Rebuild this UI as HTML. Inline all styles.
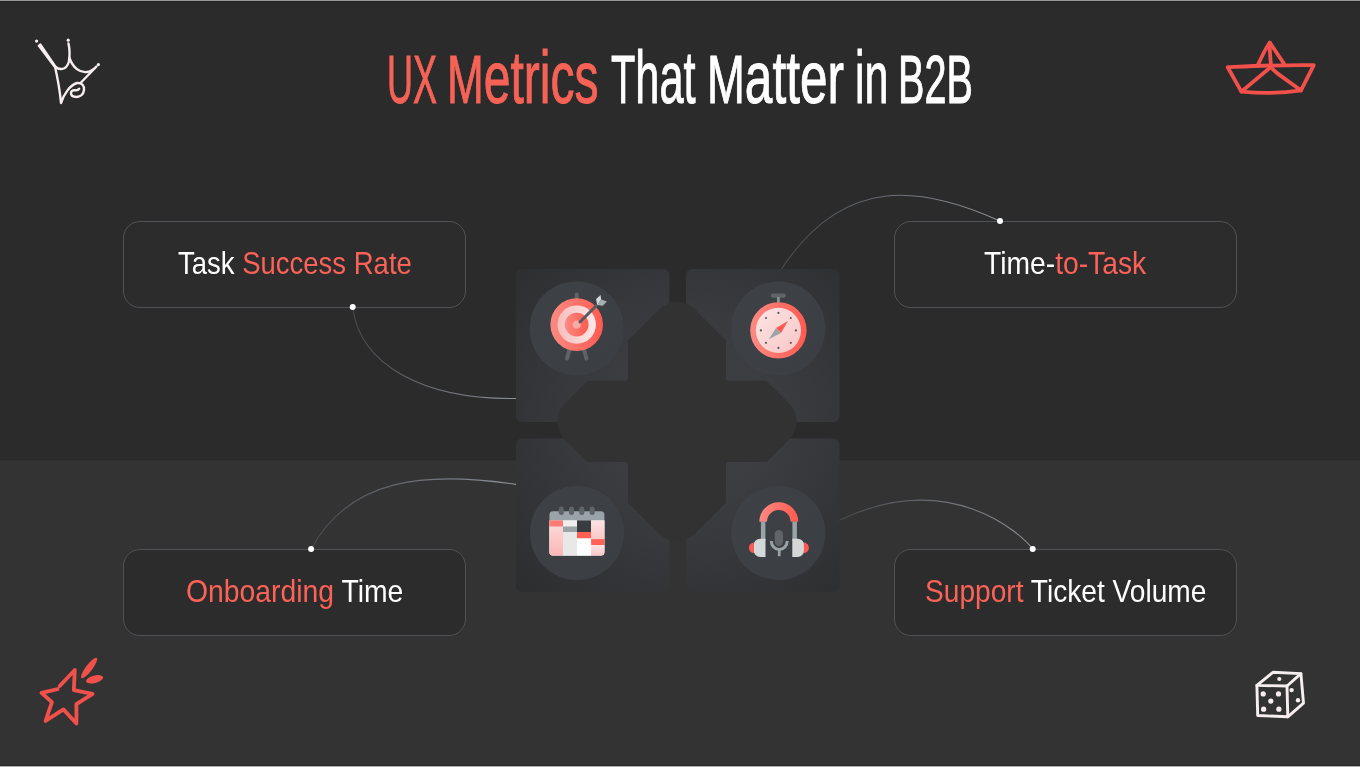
<!DOCTYPE html>
<html><head><meta charset="utf-8">
<style>
html,body{margin:0;padding:0;}
body{width:1360px;height:767px;overflow:hidden;position:relative;background:#2b2b2b;font-family:"Liberation Sans",sans-serif;}
.bgtop{position:absolute;left:0;top:0;width:1360px;height:460px;background:#2b2b2b;}
.bgbot{position:absolute;left:0;top:460px;width:1360px;height:307px;background:#333333;}
.ln{position:absolute;left:0;width:1360px;height:1px;}
.tw{position:absolute;white-space:nowrap;font-size:68.8px;line-height:80px;transform-origin:0 0;color:#fff;}
.lc{font-size:75px;}
.tw{-webkit-text-stroke:1px #fff;}
.tw.red{-webkit-text-stroke:1px #f66356;}
.bt{position:absolute;white-space:pre;font-size:30.5px;line-height:40px;transform-origin:0 0;color:#fff;}
.red{color:#fc6258;}
.tw.red{color:#f66356;}
.box{position:absolute;width:343px;height:87px;border:1px solid #4f5257;border-radius:17px;background:#2c2c2c;box-sizing:border-box;}
svg{position:absolute;left:0;top:0;}
</style></head><body>
<div class="bgtop"></div><div class="bgbot"></div>
<div class="ln" style="top:0;background:#999"></div><div class="ln" style="top:1px;background:#232323"></div>
<div class="ln" style="top:459px;background:#2a2a2a"></div><div class="ln" style="top:460px;background:#303030"></div>
<div class="ln" style="top:765px;background:#2a2a2a"></div><div class="ln" style="top:766px;background:#b0b0b0"></div>

<div class="box" style="left:123px;top:221px;"></div>
<div class="box" style="left:894px;top:221px;"></div>
<div class="box" style="left:123px;top:549px;"></div>
<div class="box" style="left:894px;top:549px;"></div>

<div class="tw red" style="left:386.69px;top:40.00px;transform:scaleX(0.5222)">UX</div>
<div class="tw red" style="left:447.40px;top:37.00px;transform:scaleX(0.6406)">M<span class="lc">e</span><span class="lc">t</span><span class="lc">r</span><span class="lc">i</span><span class="lc">c</span><span class="lc">s</span></div>
<div class="tw" style="left:611.02px;top:37.00px;transform:scaleX(0.5779)">T<span class="lc">h</span><span class="lc">a</span><span class="lc">t</span></div>
<div class="tw" style="left:706.50px;top:37.00px;transform:scaleX(0.6604)">M<span class="lc">a</span><span class="lc">t</span><span class="lc">t</span><span class="lc">e</span><span class="lc">r</span></div>
<div class="tw" style="left:855.30px;top:37.00px;transform:scaleX(0.5740)"><span class="lc">i</span><span class="lc">n</span></div>
<div class="tw" style="left:897.72px;top:40.00px;transform:scaleX(0.5754)">B2B</div>
<div class="bt" style="left:177.71px;top:243.23px;transform:scaleX(0.9015)">Task <span class="red">Success Rate</span></div>
<div class="bt" style="left:984.19px;top:243.23px;transform:scaleX(0.9263)">Time-<span class="red">to-Task</span></div>
<div class="bt" style="left:185.68px;top:571.23px;transform:scaleX(0.9287)"><span class="red">Onboarding</span> Time</div>
<div class="bt" style="left:924.83px;top:571.23px;transform:scaleX(0.9220)"><span class="red">Support</span> Ticket Volume</div>

<svg width="1360" height="767" viewBox="0 0 1360 767">
<defs>
<radialGradient id="gTile" gradientUnits="userSpaceOnUse" cx="690" cy="420" r="235"><stop offset="0.3" stop-color="#3c3e42"/><stop offset="1" stop-color="#2d2e30"/></radialGradient>
<linearGradient id="gTL" x1="0" y1="0" x2="1" y2="1"><stop offset="0" stop-color="#2c2d2f"/><stop offset="1" stop-color="#3d4044"/></linearGradient>
<linearGradient id="gTR" x1="1" y1="0" x2="0" y2="1"><stop offset="0" stop-color="#2f3032"/><stop offset="1" stop-color="#3d4044"/></linearGradient>
<linearGradient id="gBL" x1="0" y1="1" x2="1" y2="0"><stop offset="0" stop-color="#2c2d2f"/><stop offset="1" stop-color="#3d4044"/></linearGradient>
<linearGradient id="gBR" x1="1" y1="1" x2="0" y2="0"><stop offset="0" stop-color="#2c2d2f"/><stop offset="1" stop-color="#3d4044"/></linearGradient>
<linearGradient id="gCirc" x1="0" y1="0" x2="1" y2="1"><stop offset="0" stop-color="#3e4146"/><stop offset="1" stop-color="#3b3e43"/></linearGradient>
<mask id="dmask" maskUnits="userSpaceOnUse" x="0" y="0" width="1360" height="767">
<rect x="0" y="0" width="1360" height="767" fill="#fff"/>
<rect x="500" y="250" width="128" height="130.7" rx="3" fill="#000"/>
<rect x="726" y="250" width="130" height="130.7" rx="3" fill="#000"/>
<rect x="500" y="462" width="128" height="140" rx="3" fill="#000"/>
<rect x="726" y="462" width="130" height="140" rx="3" fill="#000"/>
</mask>
</defs>
<rect x="516" y="269" width="153.5" height="153" rx="6" fill="url(#gTile)"/>
<rect x="686" y="269" width="153.5" height="153" rx="6" fill="url(#gTile)"/>
<rect x="516" y="438.5" width="153.5" height="153.5" rx="6" fill="url(#gTile)"/>
<rect x="686" y="438.5" width="153.5" height="153.5" rx="6" fill="url(#gTile)"/>
<path d="M659.3,309.2 A25,25 0 0 1 694.7,309.2 L789.3,403.8 A25,25 0 0 1 789.3,439.2 L694.7,533.8 A25,25 0 0 1 659.3,533.8 L564.7,439.2 A25,25 0 0 1 564.7,403.8 Z" fill="#323232" mask="url(#dmask)"/>
<line x1="677.5" y1="302" x2="677.5" y2="459" stroke="#313131" stroke-width="1"/>
<circle cx="576.8" cy="328.4" r="47" fill="url(#gCirc)"/>
<circle cx="778.3" cy="328.4" r="47" fill="url(#gCirc)"/>
<circle cx="577" cy="533" r="47" fill="url(#gCirc)"/>
<circle cx="778.3" cy="533" r="47" fill="url(#gCirc)"/>

<defs>
<linearGradient id="rg1" x1="0" y1="0" x2="1" y2="0"><stop offset="0" stop-color="#fb8a82"/><stop offset="1" stop-color="#ff5a50"/></linearGradient>
<linearGradient id="pg1" x1="0" y1="0" x2="1" y2="0"><stop offset="0" stop-color="#f9bdbd"/><stop offset="1" stop-color="#fde7e7"/></linearGradient>
<linearGradient id="face" x1="0" y1="0" x2="1" y2="1"><stop offset="0" stop-color="#fde4e4"/><stop offset="1" stop-color="#f9c6c6"/></linearGradient>
<linearGradient id="pinkv" x1="0" y1="0" x2="0" y2="1"><stop offset="0" stop-color="#fdd6d6"/><stop offset="1" stop-color="#fbb6b6"/></linearGradient>
<linearGradient id="pinkv2" x1="0" y1="0" x2="0" y2="1"><stop offset="0" stop-color="#fde4e4"/><stop offset="1" stop-color="#fcc6c6"/></linearGradient>
</defs>
<!-- target icon -->
<rect x="574.7" y="292.5" width="4" height="7" rx="2" fill="#5d6366"/>
<line x1="569.6" y1="349" x2="567" y2="358.5" stroke="#5d6366" stroke-width="4" stroke-linecap="round"/>
<line x1="583.8" y1="349" x2="586.4" y2="358.5" stroke="#5d6366" stroke-width="4" stroke-linecap="round"/>
<circle cx="576.7" cy="324.6" r="26.3" fill="url(#rg1)"/>
<circle cx="576.7" cy="324.6" r="19.2" fill="url(#pg1)"/>
<circle cx="576.7" cy="324.6" r="11.8" fill="url(#rg1)"/>
<circle cx="576.7" cy="324.6" r="4.2" fill="#f9a9a6"/>
<line x1="580" y1="322" x2="597.5" y2="304.5" stroke="#555b5e" stroke-width="3" stroke-linecap="round"/>
<polygon points="596.1,299.0 600.6,295.0 601.1,299.6 597.2,304.9" fill="#d6d9da"/>
<polygon points="601.1,299.6 606.9,301.5 602.8,305.8 597.2,304.9" fill="#a7b0b3"/>
<!-- stopwatch -->
<rect x="770.9" y="293.5" width="15" height="4.2" rx="2.1" fill="#5f6568"/>
<rect x="777.1" y="297" width="2.6" height="6" fill="#8d979a"/>
<circle cx="778.4" cy="330.4" r="28.2" fill="url(#rg1)"/>
<circle cx="778.4" cy="330.4" r="22.6" fill="url(#face)"/>
<g fill="#555a5d">
<circle cx="778.4" cy="312.9" r="1.1"/><circle cx="778.4" cy="347.9" r="1.1"/>
<circle cx="760.9" cy="330.4" r="1.1"/><circle cx="795.9" cy="330.4" r="1.1"/>
<circle cx="766" cy="318" r="1.1"/><circle cx="790.8" cy="318" r="1.1"/>
<circle cx="766" cy="342.8" r="1.1"/><circle cx="790.8" cy="342.8" r="1.1"/>
</g>
<polygon points="776,328 781,333 788,320.9" fill="#ff5a52"/>
<polygon points="776,328 781,333 768.8,339.3" fill="#9aa5a8"/>
<!-- calendar -->
<rect x="549.4" y="511.2" width="55" height="44.4" rx="3.5" fill="#9aa3a7"/>
<path d="M549.4,520.4 H604.4 V552.1 A3.5,3.5 0 0 1 600.9,555.6 H552.9 A3.5,3.5 0 0 1 549.4,552.1 Z" fill="#eee"/>
<path d="M549.4,526.5 H563 V555.6 H552.9 A3.5,3.5 0 0 1 549.4,552.1 Z" fill="url(#pinkv)"/>
<rect x="549.4" y="520.4" width="13.6" height="6.1" fill="#ff7b72"/>
<rect x="563" y="520.4" width="14" height="6.1" fill="#efefef"/>
<rect x="563" y="526.5" width="14" height="5.5" fill="#9aa3a7"/>
<rect x="563" y="532" width="14" height="23.6" fill="#e8e8e8"/>
<rect x="577" y="520.4" width="14.1" height="11.6" fill="#393c40"/>
<rect x="577" y="532" width="14.1" height="6.5" fill="#ff6055"/>
<rect x="577" y="538.5" width="14.1" height="17.1" fill="#ffffff"/>
<path d="M591.1,520.4 H604.4 V539.1 H591.1 Z" fill="url(#pinkv2)"/>
<rect x="591.1" y="539.1" width="13.3" height="5.9" fill="#ff6358"/>
<path d="M591.1,545 H604.4 V552.1 A3.5,3.5 0 0 1 600.9,555.6 H591.1 Z" fill="url(#pinkv2)"/>
<g stroke="#5f6568" stroke-width="5" stroke-linecap="round">
<line x1="561.3" y1="509" x2="561.3" y2="512.4"/><line x1="571.5" y1="509" x2="571.5" y2="512.4"/>
<line x1="581.8" y1="509" x2="581.8" y2="512.4"/><line x1="592.2" y1="509" x2="592.2" y2="512.4"/>
</g>
<!-- headset -->
<path d="M759.3,521.8 A19.5,19.5 0 0 1 798.3,521.8 H790.6 A11.8,11.8 0 0 0 767,521.8 Z" fill="url(#rg1)"/>
<rect x="760.9" y="521.5" width="4.5" height="19" fill="#9aa3a7"/>
<rect x="792.4" y="521.5" width="4.5" height="19" fill="#9aa3a7"/>
<path d="M765.5,538.7 V557 H760.2 A6.5,6.5 0 0 1 753.7,550.5 V545.2 A6.5,6.5 0 0 1 760.2,538.7 Z" fill="#d5d8d9"/>
<path d="M792.3,538.7 V557 H797.6 A6.5,6.5 0 0 0 804.1,550.5 V545.2 A6.5,6.5 0 0 0 797.6,538.7 Z" fill="#d5d8d9"/>
<path d="M753.9,542.6 A5,5.25 0 0 0 753.9,553.1 Z" fill="#ff5a52"/>
<path d="M803.9,542.6 A5,5.25 0 0 1 803.9,553.1 Z" fill="#ff5a52"/>
<rect x="774.7" y="530" width="8.3" height="16" rx="4.15" fill="#5f6568"/>
<path d="M771.3,541 A7.95,8.6 0 0 0 787.2,541" fill="none" stroke="#9aa3a7" stroke-width="3"/>
<line x1="779.25" y1="549" x2="779.25" y2="556.2" stroke="#9aa3a7" stroke-width="2.7"/>

<defs><linearGradient id="cg" x1="0" y1="0" x2="1" y2="0"><stop offset="0" stop-color="#46494e"/><stop offset="1" stop-color="#8e9298"/></linearGradient></defs>
<g fill="none" stroke="url(#cg)" stroke-width="1.1">
<path d="M352.7,307 C359.5,364.5 422.6,399.5 516,398.5"/>
<path d="M1000,221 C922,185.8 843.8,174.1 781.7,268.7"/>
<path d="M311.1,548.9 C349.5,478.8 424,470.5 516,484.4"/>
<path d="M1032.7,549 C1021.3,534 949.6,467.5 839.4,520.3"/>
</g>
<g fill="#ffffff">
<circle cx="352.7" cy="307" r="3"/>
<circle cx="1000" cy="221" r="3"/>
<circle cx="311.1" cy="548.9" r="3"/>
<circle cx="1032.7" cy="549" r="3"/>
</g>
<!-- crown -->
<g fill="none" stroke="#f7efef" stroke-width="2.4" stroke-linecap="round" stroke-linejoin="round">
<path d="M55,66.5 C59,70 66,71 68.8,62 C70,55 69.5,48 68.5,43.5"/>
<path d="M38.6,45.7 L40.4,44.3 L55.4,66.2 L54.6,66.8 Z" fill="#f7efef" stroke-width="2"/>
<path d="M69.5,58 C73,68 80,73 87,72 C91,71.5 94,69 96.5,66.5 L80.5,83"/>
<path d="M55,66.5 C58,80 60,92 61,103 C64,94 70,85 77,83 C82,82.5 84.5,86 84,90 C83.5,94.5 80,97 76.5,97 C73,97 71,95.5 71,93 C71,90.8 73,90 75,90.3 C76.8,90.6 78.3,90.2 79.2,88.7"/>
</g>
<g fill="#f7efef"><circle cx="36.6" cy="41.1" r="1.6"/><circle cx="68.2" cy="40.2" r="1.6"/><circle cx="98.4" cy="64.6" r="1.6"/></g>
<!-- boat -->
<g fill="none" stroke="#f2504a" stroke-width="3.8" stroke-linecap="round" stroke-linejoin="round">
<path d="M1258,64.7 C1262,56 1266,48 1269.8,42.5 L1284,63.7"/>
<path d="M1269.8,43 C1269.5,52 1270.5,60 1271.2,66.7"/>
<path d="M1227.7,67.2 C1255,66 1285,64.5 1313.8,65.2 L1301,90.4 C1280,93.8 1262,93.5 1241.4,91.6 Z"/>
<path d="M1241.4,91.6 L1271.2,66.7 C1273,71 1278,74 1301,90.4"/>
</g>
<!-- star -->
<g fill="none" stroke="#f2504a" stroke-width="3.8" stroke-linecap="round" stroke-linejoin="round">
<path d="M59.7,686 L74.8,670 L73.8,690.2 L92.6,693.8 L76.4,704.2 L76.4,723.5 L63.4,709.4 L45.6,720.9 L51.9,702.1 L41.5,692.8 L57.6,689.1"/>
</g>
<g fill="#f2504a">
<ellipse cx="89.1" cy="668" rx="3.3" ry="12.6" transform="rotate(37 89.1 668)"/>
<ellipse cx="94.6" cy="679.3" rx="3.7" ry="8.8" transform="rotate(76 94.6 679.3)"/>
</g>
<!-- dice -->
<g fill="none" stroke="#f7efef" stroke-width="2.9" stroke-linecap="round" stroke-linejoin="round">
<path d="M1256.9,685.4 L1273,672.3 L1300.9,673.6 L1287,686 Z"/>
<path d="M1256.9,685.4 L1257.7,715.5 L1287.8,716.8 L1287,686"/>
<path d="M1300.9,673.6 L1303.5,703.2 L1287.8,716.8"/>
</g>
<g fill="#f7efef">
<circle cx="1279.3" cy="679" r="2.1"/>
<circle cx="1263.2" cy="693.9" r="2.6"/><circle cx="1278.5" cy="693.9" r="2.6"/>
<circle cx="1270.8" cy="701.1" r="2.6"/>
<circle cx="1263.6" cy="709.2" r="2.6"/><circle cx="1278.9" cy="709.2" r="2.6"/>
<circle cx="1291.6" cy="690.1" r="2.2"/><circle cx="1298" cy="700.3" r="2.2"/>
</g>

</svg>
</body></html>
